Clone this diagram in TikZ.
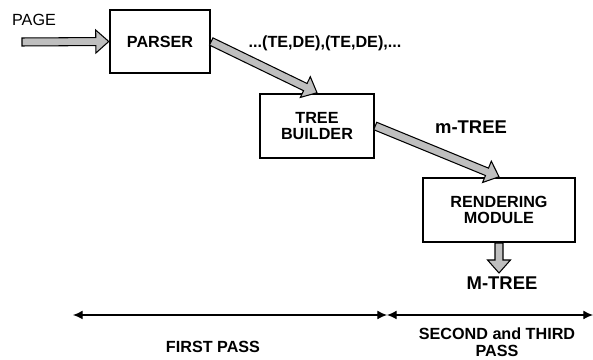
\documentclass[tikz,border=0pt]{standalone}
\usepackage{fontspec}
\setmainfont{Liberation Sans}
\usepackage{tikz}
\usetikzlibrary{calc}
\usetikzlibrary{shapes,arrows,arrows.meta}

% grey block arrow from #1 to #2
\newcommand{\bigarrow}[2]{%
  \coordinate (hb) at ($(#2)!0.26cm!(#1)$);
  \filldraw [fat] ($(#1)!0.08cm!90:(#2)$) -- ($(hb)!0.08cm!90:(#2)$)
    -- ($(hb)!0.23cm!90:(#2)$) -- (#2) -- ($(hb)!0.23cm!-90:(#2)$)
    -- ($(hb)!0.08cm!-90:(#2)$) -- ($(#1)!0.08cm!-90:(#2)$) -- cycle;
}

\begin{document}
\fontsize{9.2}{9.6}\selectfont
\begin{tikzpicture}[
    box/.style={draw, line width=1.4pt, align=center, font=\bfseries},
    fat/.style={fill=black!25, draw=black, line width=0.6pt},
    lbl/.style={font=\bfseries},
    biglbl/.style={font=\fontsize{10.5}{12}\selectfont\bfseries},
    dim/.style={{Latex[length=5.5pt,width=5pt]}-{Latex[length=5.5pt,width=5pt]}, line width=0.6pt}]
  \useasboundingbox (0,0) rectangle (11.86,7.2);
    \coordinate (in) at (0.44,6.36);
    \coordinate (out) at (9.98,1.74);
    \coordinate (D0) at (1.46,0.9);
    \coordinate (D1) at (7.74,0.9);
    \coordinate (D2) at (11.86,0.9);
      \node [box, minimum width=2cm, minimum height=1.26cm] (parser) at (3.2,6.37) {PARSER};
      \node [box, minimum width=2.28cm, minimum height=1.28cm] (builder) at (6.34,4.68) {TREE\\BUILDER};
      \node [box, minimum width=3.04cm, minimum height=1.28cm] (render) at (9.98,3.0) {RENDERING\\MODULE};
      \node (page) at (0.68,6.8) {PAGE};
      \node [lbl] (pairs) at (6.5,6.34) {...(TE,DE),(TE,DE),...};
      \node [biglbl] (mtree) at (9.42,4.66) {m-TREE};
      \node [biglbl] (Mtree) at (10.04,1.54) {M-TREE};
      \bigarrow{in}{parser.west}
      \bigarrow{parser.east}{builder.north}
      \bigarrow{builder.east}{render.north}
      \bigarrow{render.south}{out}
      \draw [dim] (D0) -- (D1);
      \draw [dim] (D1) -- (D2);
      \node [lbl] (first) at (4.26,0.26) {FIRST PASS};
      \node [lbl, align=center] (second) at (9.94,0.36) {SECOND and THIRD\\PASS};
  \end{tikzpicture}
\end{document}
